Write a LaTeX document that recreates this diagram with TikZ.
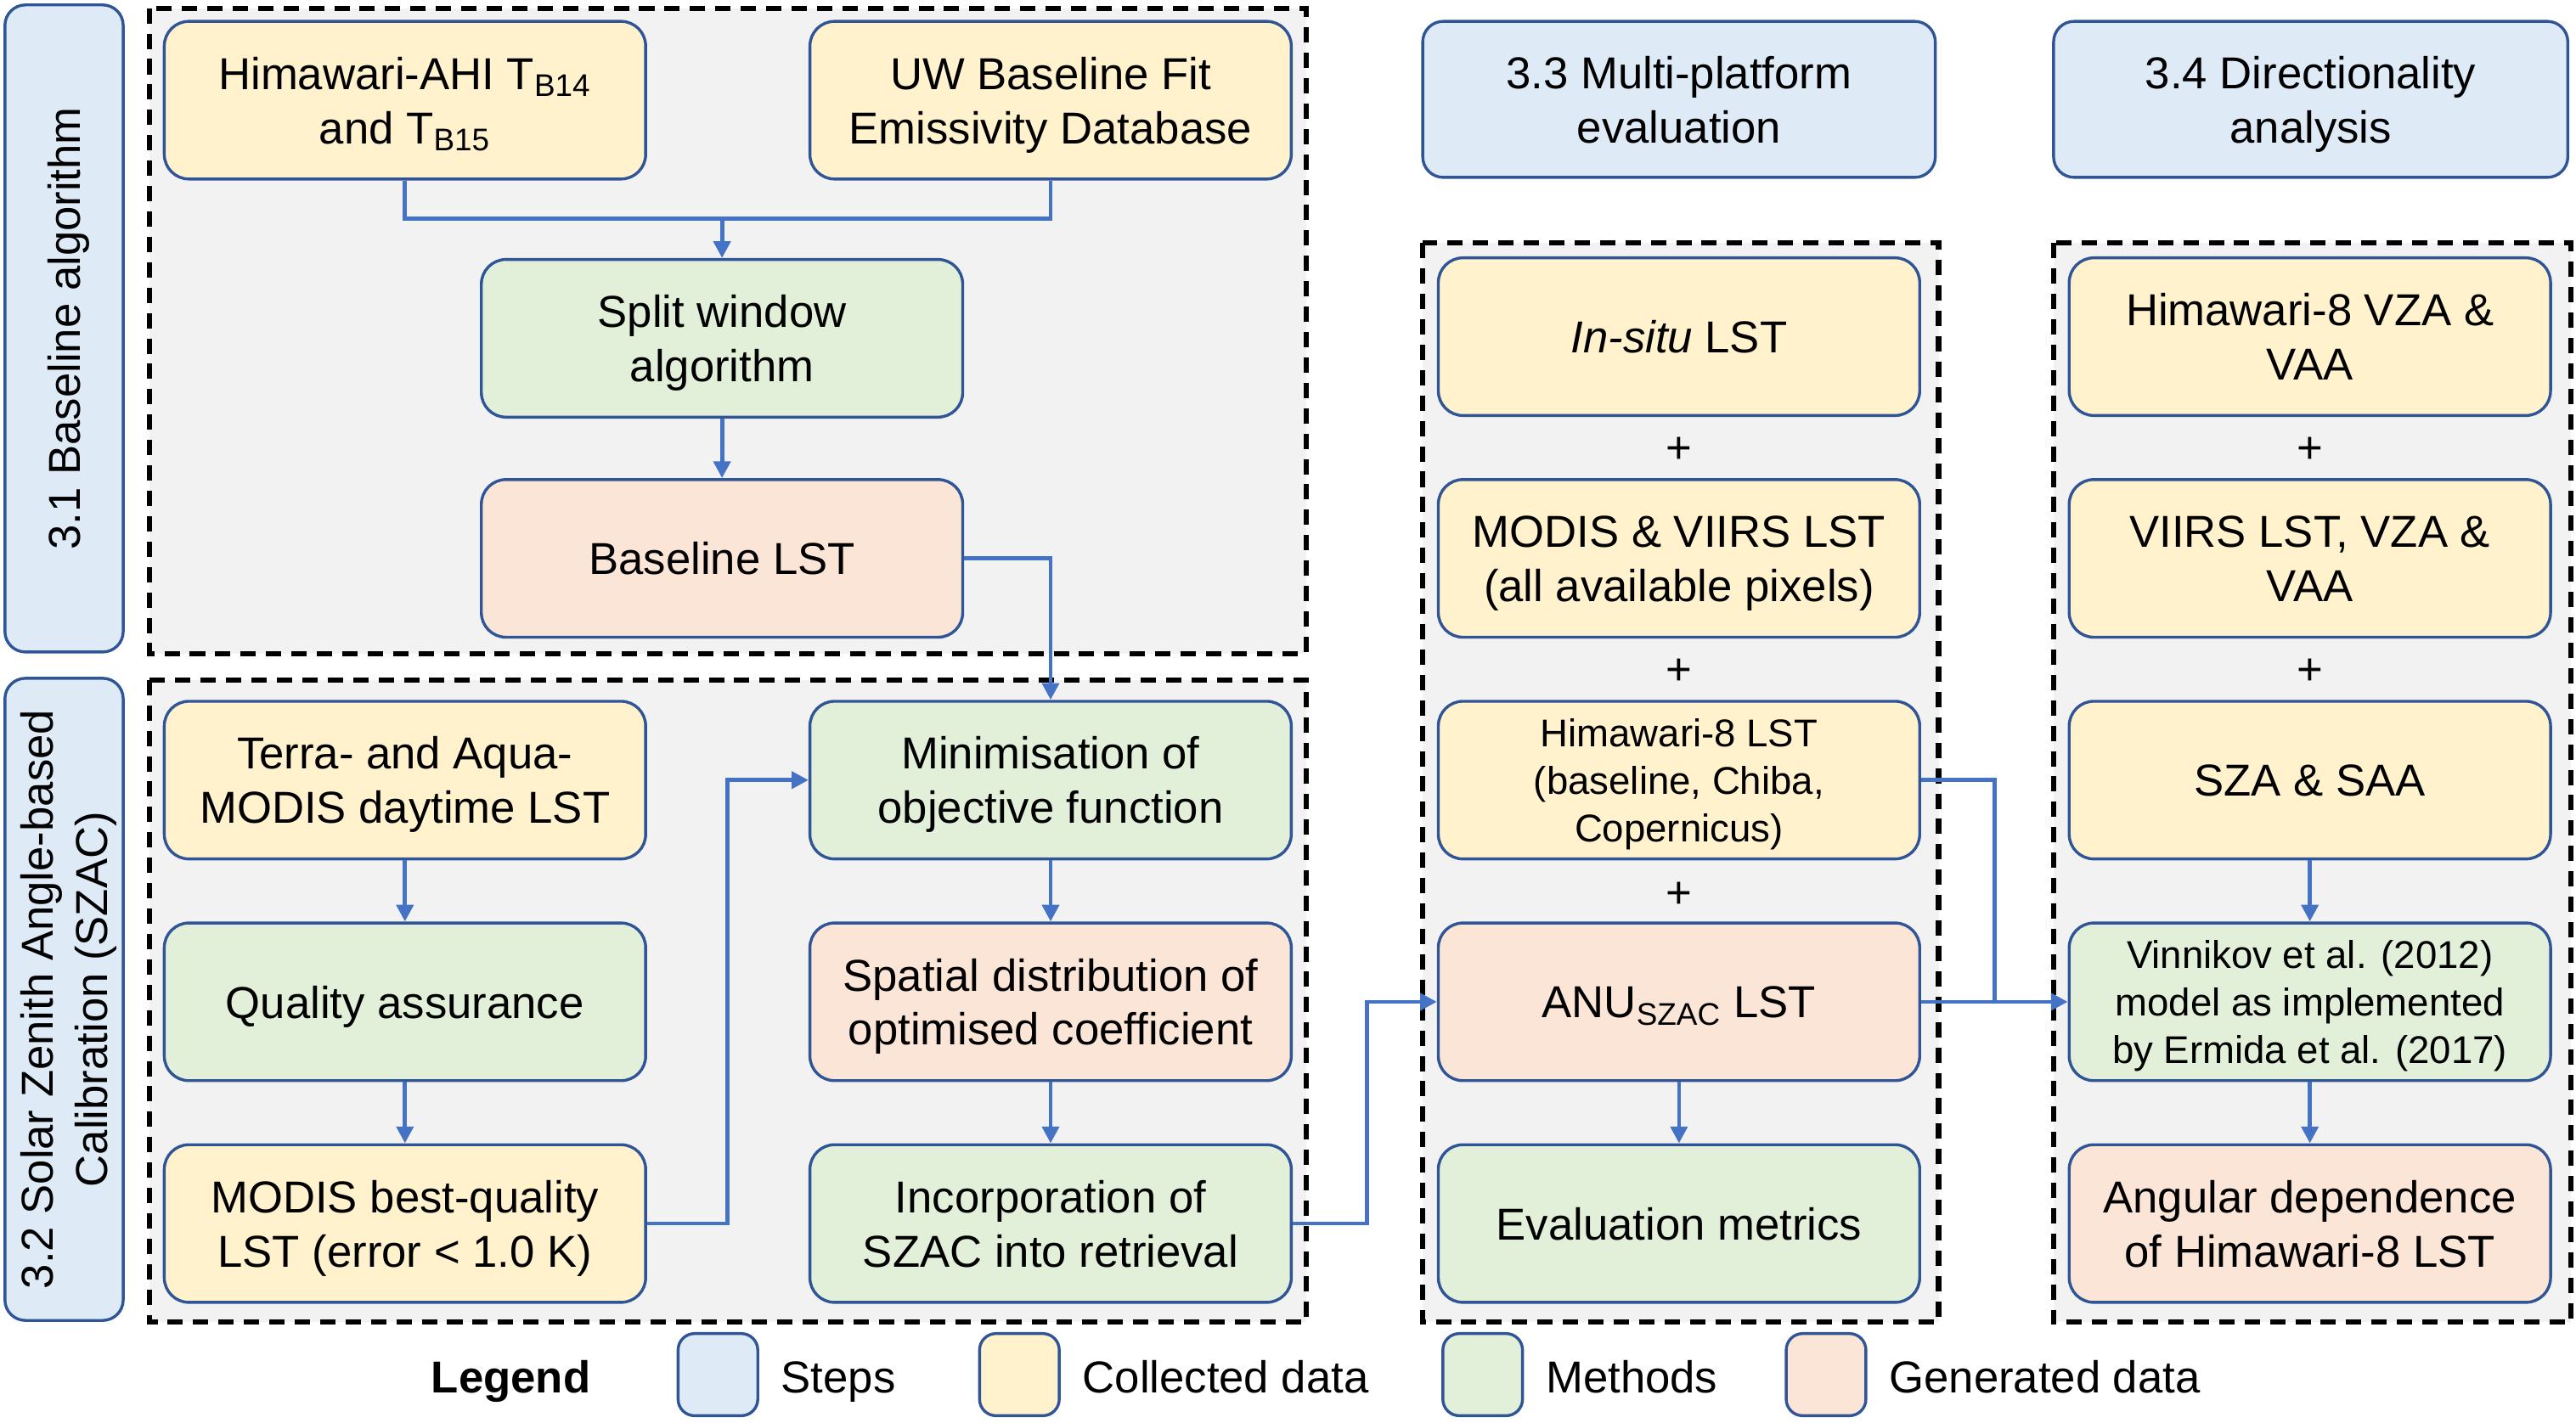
\documentclass[tikz,border=0pt]{standalone}
\usepackage{fontspec}
\setmainfont{Liberation Sans}
\usetikzlibrary{arrows.meta,positioning}
\definecolor{stepfill}{HTML}{DEEBF7}
\definecolor{collectedfill}{HTML}{FFF2CC}
\definecolor{methodfill}{HTML}{E2F0D9}
\definecolor{generatedfill}{HTML}{FBE5D6}
\definecolor{groupfill}{HTML}{F2F2F2}
\definecolor{borderblue}{HTML}{2F5597}
\definecolor{lineblue}{HTML}{4472C4}
\newcommand{\mainsize}{\fontsize{15.5pt}{18.8pt}\selectfont}
\newcommand{\smallsize}{\fontsize{13.4pt}{16.5pt}\selectfont}
\tikzstyle{box}=[shape=rectangle,rounded corners=3mm,draw=borderblue,line width=1pt,minimum width=58.6mm,minimum height=19.2mm,align=center,inner sep=1mm,text depth=0pt,font=\mainsize]
\tikzstyle{collected}=[box,fill=collectedfill]
\tikzstyle{method}=[box,fill=methodfill]
\tikzstyle{generated}=[box,fill=generatedfill]
\tikzstyle{stepbox}=[shape=rectangle,rounded corners=2.5mm,draw=borderblue,line width=1pt,fill=stepfill,align=center,text depth=0pt,font=\mainsize]
\tikzstyle{swatch}=[shape=rectangle,rounded corners=2mm,draw=borderblue,line width=1pt,minimum width=9.7mm,minimum height=10mm]
\tikzstyle{group}=[fill=groupfill,draw=black,line width=1.8pt,dash pattern=on 5.3pt off 3.5pt]
\tikzstyle{line}=[draw=lineblue,line width=1.4pt]
\tikzstyle{arrow}=[line,-{Triangle[length=5.8pt,width=5.8pt]}]

\begin{document}
\begin{tikzpicture}[x=0.2mm,y=-0.2mm]
\useasboundingbox (0,0) rectangle (1568,866);

% dashed groups
\draw[group] (91,5) rectangle (795,398);
\draw[group] (91,414) rectangle (795,805);
\draw[group] (866,148) rectangle (1180,805);
\draw[group] (1250,148) rectangle (1565,805);

% steps
\node[stepbox,rotate=90,minimum width=78.8mm,minimum height=14.4mm] (s31) at (39,200) {3.1 Baseline algorithm};
\node[stepbox,rotate=90,minimum width=78.2mm,minimum height=14.4mm] (s32) at (39,608.5) {3.2 Solar Zenith Angle-based\\Calibration (SZAC)};
\node[stepbox,minimum width=62.4mm,minimum height=19mm] (s33) at (1022,60.5) {3.3 Multi-platform\\evaluation};
\node[stepbox,minimum width=62.6mm,minimum height=19mm] (s34) at (1406.5,60.5) {3.4 Directionality\\analysis};

% 3.1
\node[collected] (ahi) at (246.5,61) {Himawari-AHI T\textsubscript{B14}\\and T\textsubscript{B15}};
\node[collected] (uw) at (639.5,61) {UW Baseline Fit\\Emissivity Database};
\node[method] (split) at (439.5,206) {Split window\\algorithm};
\node[generated] (base) at (439.5,340) {Baseline LST};

% 3.2
\node[collected] (terra) at (246.5,475) {Terra- and Aqua-\\MODIS daytime LST};
\node[method] (qa) at (246.5,610) {Quality assurance};
\node[collected] (best) at (246.5,745) {MODIS best-quality\\LST (error < 1.0 K)};
\node[method] (mini) at (639.5,475) {Minimisation of\\objective function};
\node[generated] (coef) at (639.5,610) {Spatial distribution of\\optimised coefficient};
\node[method] (incorp) at (639.5,745) {Incorporation of\\SZAC into retrieval};

% 3.3
\node[collected] (insitu) at (1022,205) {\textit{In-situ} LST};
\node[collected] (modis) at (1022,340) {MODIS \& VIIRS LST\\(all available pixels)};
\node[collected,font=\smallsize] (h8lst) at (1022,475) {Himawari-8 LST\\(baseline, Chiba,\\Copernicus)};
\node[generated] (anu) at (1022,610) {ANU\textsubscript{SZAC} LST};
\node[method] (eval) at (1022,745) {Evaluation metrics};

% 3.4
\node[collected] (vza) at (1406,205) {Himawari-8 VZA \&\\VAA};
\node[collected] (viirs) at (1406,340) {VIIRS LST, VZA \&\\VAA};
\node[collected] (sza) at (1406,475) {SZA \& SAA};
\node[method,font=\smallsize] (vinn) at (1406,610) {Vinnikov et al. (2012)\\model as implemented\\by Ermida et al. (2017)};
\node[generated] (ang) at (1406,745) {Angular dependence\\of Himawari-8 LST};

\foreach \x/\y/\n in {1022/272/a,1022/407/b,1022/543/c,1406/272/d,1406/407/e}{
	\node[font=\mainsize] (plus\n) at (\x,\y+2) {+};}

% connectors
\coordinate (join) at (439.5,133);
\coordinate (merge) at (1214,610);
\draw[line] (ahi.south) |- (join) -| (uw.south);
\draw[arrow] (join) -- (split);
\draw[arrow] (split) -- (base);
\draw[arrow] (base.east) -| (mini.north);
\draw[arrow] (terra) -- (qa);
\draw[arrow] (qa) -- (best);
\draw[arrow] (best.east) -- ++(49,0) |- (mini.west);
\draw[arrow] (mini) -- (coef);
\draw[arrow] (coef) -- (incorp);
\draw[arrow] (incorp.east) -- ++(45,0) |- (anu.west);
\draw[arrow] (anu) -- (eval);
\draw[line] (h8lst.east) -| (merge);
\draw[arrow] (anu.east) -- (vinn.west);
\draw[arrow] (sza) -- (vinn);
\draw[arrow] (vinn) -- (ang);

% legend
\node[font=\bfseries\mainsize,anchor=base,inner sep=0] (legend) at (311,848) {Legend};
\foreach \x/\c/\t/\n in {437/stepfill/Steps/steps,620.5/collectedfill/Collected data/collected,902.5/methodfill/Methods/methods,1111.5/generatedfill/Generated data/generated}{
	\node[swatch,fill=\c] (sw\n) at (\x,837) {};
	\node[font=\mainsize,anchor=base west,inner sep=0] (lab\n) at ([xshift=2.6mm,yshift=-2.2mm]sw\n.east) {\t};}
\end{tikzpicture}
\end{document}
